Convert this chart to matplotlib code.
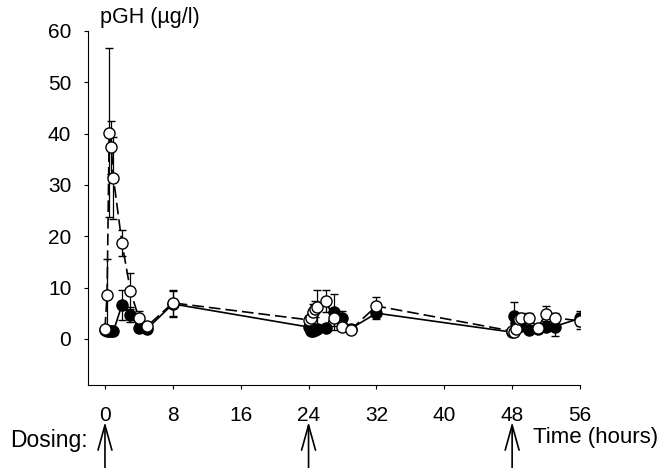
import numpy as np
from matplotlib import pyplot as plt

plt.rcParams['font.family'] = ['Liberation Sans', 'DejaVu Sans']

# sampling times (hours)
t = [0, 0.25, 0.5, 0.75, 1, 2, 3, 4, 5, 8,
     24, 24.25, 24.5, 24.75, 25, 26, 27, 28, 29, 32,
     48, 48.25, 48.5, 48.75, 49, 50, 51, 52, 53, 56]

# filled circles, solid line
filled = [1.7, 1.5, 1.5, 1.5, 1.5, 6.6, 4.7, 2.1, 2.0, 6.8,
          2.3, 1.5, 1.5, 1.8, 2.0, 2.1, 5.3, 4.0, 2.0, 5.0,
          1.3, 4.5, 3.0, 2.7, 2.5, 1.8, 2.0, 2.4, 2.4, 4.0]
filled_err = [0.3, 0.3, 0.3, 0.3, 0.3, 3.0, 1.5, 0.5, 0.4, 2.5,
              1.0, 0.5, 0.5, 0.5, 0.5, 0.5, 3.5, 1.5, 0.5, 1.2,
              0.4, 2.7, 0.8, 0.5, 0.5, 0.5, 0.5, 0.8, 1.8, 1.5]

# open circles, dashed line
open_ = [2.0, 8.6, 40.2, 37.3, 31.3, 18.7, 9.4, 4.0, 2.5, 7.0,
         3.7, 4.0, 5.3, 5.8, 6.2, 7.4, 4.0, 2.3, 1.8, 6.4,
         1.5, 1.4, 2.0, 3.9, 4.0, 4.1, 2.1, 4.9, 4.1, 3.5]
open_err = [0.5, 7.0, 16.5, 5.2, 8.0, 2.5, 3.5, 1.5, 0.5, 2.5,
            1.0, 1.0, 1.5, 1.6, 3.3, 2.1, 1.5, 0.5, 0.5, 1.8,
            0.5, 0.5, 0.5, 1.0, 1.0, 1.0, 0.5, 1.5, 1.0, 1.5]

x_ticks = [0, 8, 16, 24, 32, 40, 48, 56]
y_ticks = [0, 10, 20, 30, 40, 50, 60]
dosing = [0, 24, 48]

fig = plt.figure(figsize=(6.72, 4.68), dpi=100)
ax = fig.add_axes([88/672, 1 - 385/468, (580-88)/672, (385-31)/468])

ax.errorbar(t, filled, yerr=filled_err, fmt='-o', color='black', lw=1.2,
            ms=8, mfc='black', mec='black', mew=1.0, capsize=3, elinewidth=0.9,
            capthick=0.9, zorder=2)
ax.errorbar(t, open_, yerr=open_err, fmt='o', color='black', lw=1.2,
            ms=8, mfc='white', mec='black', mew=1.0, capsize=3, elinewidth=0.9,
            capthick=0.9, zorder=3)
ax.plot(t, open_, color='black', lw=1.2, ls=(0, (7, 3)), zorder=2.5)

ax.set_xlim(-2, 56)
ax.set_ylim(-9, 60)
ax.set_xticks(x_ticks)
ax.set_yticks(y_ticks)
ax.spines['top'].set_visible(False)
ax.spines['right'].set_visible(False)
ax.tick_params(axis='x', direction='out', length=3, pad=12, labelsize=15)
ax.tick_params(axis='y', direction='out', length=3, pad=9, labelsize=15)

fig.text(100/672, 1 - 18/468, 'pGH (\u00b5g/l)', fontsize=15.5, va='center', ha='left')
fig.text(533/672, 1 - 437/468, 'Time (hours)', fontsize=16, va='center', ha='left')
fig.text(10/672, 1 - 440/468, 'Dosing:', fontsize=16.5, va='center', ha='left')

for d in dosing:
    ax.annotate('', xy=(d, 1 - 422/468), xytext=(d, 0.0),
                xycoords=('data', 'figure fraction'),
                textcoords=('data', 'figure fraction'),
                annotation_clip=False,
                arrowprops=dict(arrowstyle='->,head_length=0.9,head_width=0.25',
                                lw=1.2, color='black', mutation_scale=20,
                                shrinkA=0, shrinkB=0))

fig.savefig('out.png', dpi=100)
